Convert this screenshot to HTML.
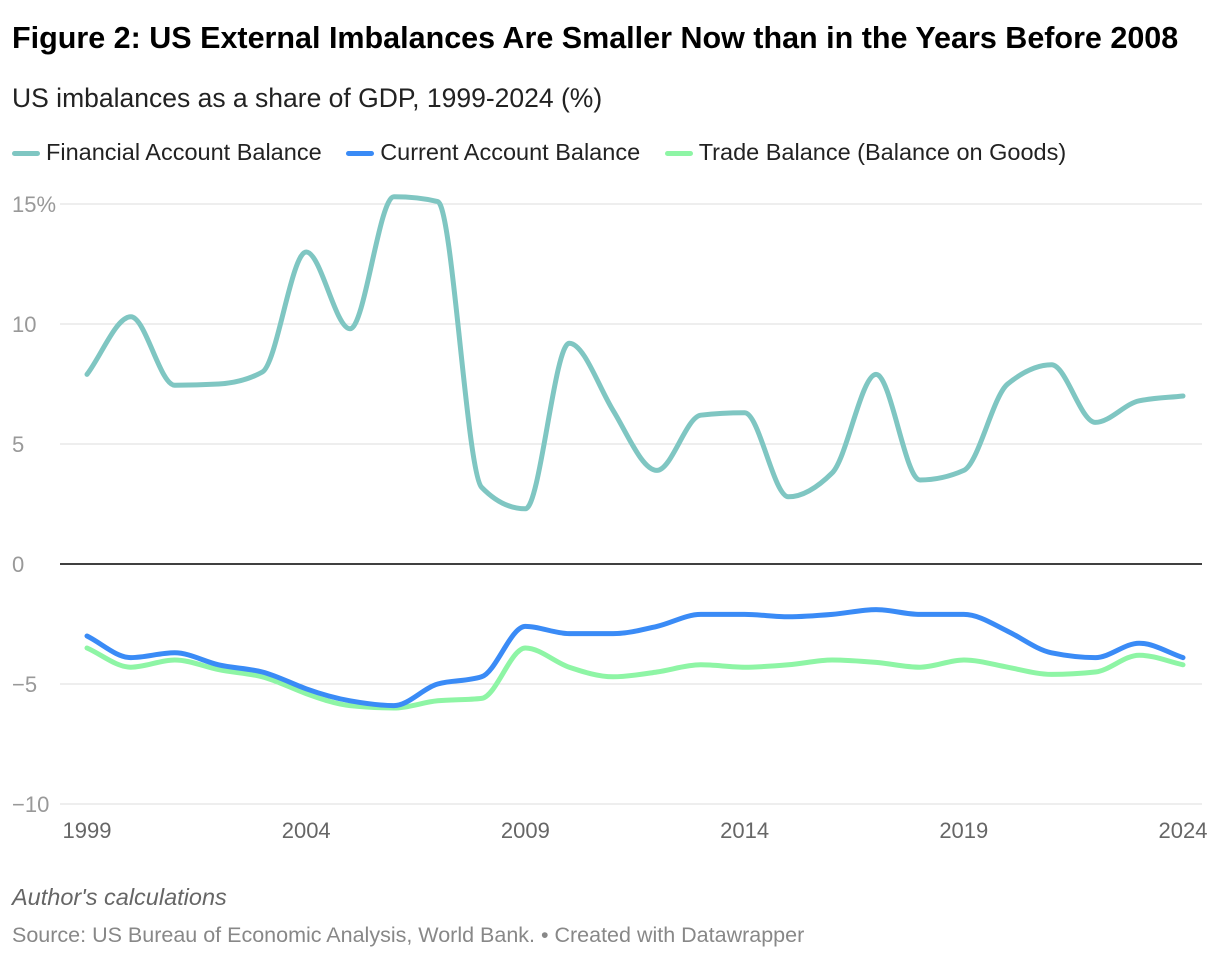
<!DOCTYPE html>
<html><head><meta charset="utf-8"><style>
body{margin:0;background:#fff;font-family:"Liberation Sans",Arial,sans-serif;}
#wrap{position:relative;width:1220px;height:958px;overflow:hidden;}
.t{position:absolute;white-space:nowrap;}
</style></head><body>
<div id="wrap">
<div class="t" style="left:12px;top:21px;font-size:30.5px;font-weight:bold;color:#000;">Figure 2: US External Imbalances Are Smaller Now than in the Years Before 2008</div>
<div class="t" style="left:12px;top:83px;font-size:26.5px;color:#222;">US imbalances as a share of GDP, 1999-2024 (%)</div>
<div class="t" style="left:12px;top:139px;font-size:23.5px;color:#222;">
<span><span style="display:inline-block;width:28px;height:5px;border-radius:3px;background:#7fc6c2;vertical-align:middle;margin-right:6px"></span>Financial Account Balance</span>
<span style="margin-left:18px"><span style="display:inline-block;width:28px;height:5px;border-radius:3px;background:#3a8bf6;vertical-align:middle;margin-right:6px"></span>Current Account Balance</span>
<span style="margin-left:18px"><span style="display:inline-block;width:28px;height:5px;border-radius:3px;background:#8ef5a5;vertical-align:middle;margin-right:6px"></span>Trade Balance (Balance on Goods)</span>
</div>
<svg id="chart" width="1220" height="958" style="position:absolute;left:0;top:0"></svg>
<div class="t" style="left:12px;top:884px;font-size:23.5px;font-style:italic;color:#666;">Author's calculations</div>
<div class="t" style="left:12px;top:923px;font-size:21.5px;color:#888;">Source: US Bureau of Economic Analysis, World Bank. • Created with Datawrapper</div>
</div>
<script>
const years=[1999,2000,2001,2002,2003,2004,2005,2006,2007,2008,2009,2010,2011,2012,2013,2014,2015,2016,2017,2018,2019,2020,2021,2022,2023,2024];
const financial=[7.9,10.3,7.45,7.5,8.0,13.0,9.8,15.3,15.1,3.2,2.3,9.2,6.4,3.9,6.2,6.3,2.8,3.8,7.9,3.5,3.9,7.5,8.3,5.9,6.8,7.0];
const current=[-3.0,-3.9,-3.7,-4.2,-4.5,-5.2,-5.7,-5.9,-5.0,-4.7,-2.6,-2.9,-2.9,-2.6,-2.1,-2.1,-2.2,-2.1,-1.9,-2.1,-2.1,-2.8,-3.7,-3.9,-3.3,-3.9];
const trade=[-3.5,-4.3,-4.0,-4.4,-4.7,-5.4,-5.9,-6.0,-5.7,-5.6,-3.5,-4.3,-4.7,-4.5,-4.2,-4.3,-4.2,-4.0,-4.1,-4.3,-4.0,-4.3,-4.6,-4.5,-3.8,-4.2];
const yTicks=[15,10,5,0,-5,-10];
const yTickLabels=["15%","10","5","0","−5","−10"];
const xTicks=[1999,2004,2009,2014,2019,2024];
const NS="http://www.w3.org/2000/svg";
const svg=document.getElementById('chart');
const x=v=>87+(v-1999)*(1183-87)/25;
const y=v=>564-v*24;
function mk(t,a){const e=document.createElementNS(NS,t);for(const k in a)e.setAttribute(k,a[k]);svg.appendChild(e);return e;}
yTicks.forEach((t,i)=>{
  const g=mk('line',{x1:60,x2:1202,y1:y(t),y2:y(t),stroke:t===0?'#000':'#ddd','stroke-width':t===0?1.5:1});
  
  
  const l=mk('text',{x:12,y:y(t)+8,'font-size':22,fill:'#999','font-family':'Liberation Sans, sans-serif'});
  l.textContent=yTickLabels[i];
  
  
});
xTicks.forEach(t=>{
  const l=mk('text',{x:x(t),y:838,'font-size':22,fill:'#666','text-anchor':'middle','font-family':'Liberation Sans, sans-serif'});
  l.textContent=t;
  
  
});
function mono(xs,ys){
  const n=xs.length,d=[],m=[];
  for(let i=0;i<n-1;i++)d.push((ys[i+1]-ys[i])/(xs[i+1]-xs[i]));
  m[0]=d[0];m[n-1]=d[n-2];
  for(let i=1;i<n-1;i++){ if(d[i-1]*d[i]<=0)m[i]=0; else m[i]=3/((d[i-1]+2*d[i])/d[i-1]/ (d[i]) *0 + (1/d[i-1]+2/d[i])/1*0 + (2/d[i-1]+1/d[i])/1*0 + 1/d[i-1]+1/d[i]+1/d[i-1]+1/d[i]-1/d[i-1]-1/d[i]+ (1/d[i-1]+1/d[i]))*1.5; }
  let p='M'+xs[0]+','+ys[0];
  for(let i=0;i<n-1;i++){const h=(xs[i+1]-xs[i])/3;p+=' C'+(xs[i]+h)+','+(ys[i]+m[i]*h)+' '+(xs[i+1]-h)+','+(ys[i+1]-m[i+1]*h)+' '+xs[i+1]+','+ys[i+1];}
  return p;
}
function series(vals,color,name){
  const p=mk('path',{d:mono(years.map(x),vals.map(y)),fill:'none',stroke:color,'stroke-width':5,'stroke-linejoin':'round','stroke-linecap':'round'});
  
  
}
series(trade,'#8ef5a5','trade-balance-line');
series(current,'#3a8bf6','current-account-line');
series(financial,'#7fc6c2','financial-account-line');
</script>
</body></html>
